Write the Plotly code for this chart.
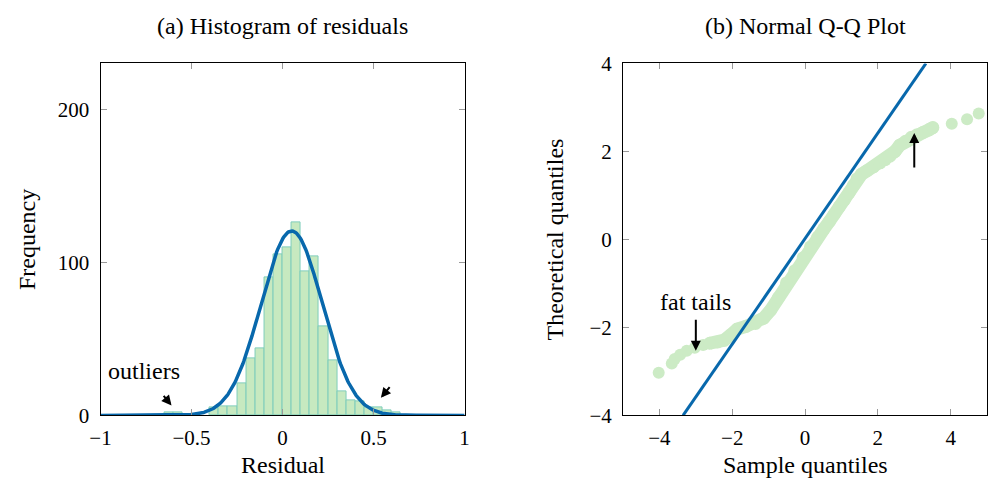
import numpy as np
import plotly.graph_objects as go

# ---------------- data ----------------
bin_left = [-0.65, -0.60, -0.40, -0.35, -0.30, -0.25, -0.20, -0.15, -0.10, -0.05,
            0.00, 0.05, 0.10, 0.15, 0.20, 0.25, 0.30, 0.35, 0.40, 0.45, 0.50, 0.55, 0.60]
bin_count = [2, 2, 5, 6, 6, 21, 37, 44, 90, 105,
             110, 126, 94, 104, 58, 36, 16, 10, 9, 5, 5, 3, 2]
bin_width = 0.05

fit_mean = 0.05
fit_sd = 0.168
fit_peak = 120.5

# Q-Q: sparse tail points (drawn as separate dots)
qq_tail_x = [-4.02, -3.66, -3.58, -3.43, -3.25, -3.03, -2.80, -2.62,
             3.51, 4.03, 4.45, 4.77]
qq_tail_y = [-3.03, -2.82, -2.72, -2.62, -2.53, -2.46, -2.40, -2.36,
             2.54, 2.63, 2.73, 2.86]
# Q-Q: dense central band
qq_band_x = [-2.62, -2.40, -2.22, -2.04, -1.86, -1.63, -1.36, -1.14, -0.95, -0.73,
             -0.51, -0.28, -0.05, 0.15, 0.35, 0.52, 0.67, 0.80, 0.94, 1.08, 1.21,
             1.33, 1.43, 1.55, 1.70, 1.88, 2.06, 2.20, 2.33, 2.47, 2.60, 2.76,
             2.92, 3.08, 3.24, 3.40, 3.51]
qq_band_y = [-2.36, -2.33, -2.29, -2.17, -2.04, -1.98, -1.91, -1.79, -1.61, -1.32,
             -0.99, -0.71, -0.42, -0.17, 0.05, 0.24, 0.41, 0.57, 0.74, 0.90, 1.06,
             1.23, 1.38, 1.48, 1.56, 1.65, 1.74, 1.81, 1.89, 2.00, 2.14, 2.23,
             2.32, 2.38, 2.43, 2.49, 2.54]
ref_x = [-3.35, 3.32]
ref_y = [-4.0, 4.0]

# ---------------- styles ----------------
FONT = "Liberation Serif"
FS_TICK = 21
FS_TXT = 24
BAR_FILL = "#c7e9c0"
BAR_EDGE = "#7fcdbb"
BLUE = "#0868ac"
PT = "#ccebc5"

W, H = 997, 494
def px(x):
    return x / W
def py(y):
    return 1 - y / H

fig = go.Figure()

centers = [b + bin_width / 2 for b in bin_left]
fig.add_trace(go.Bar(x=centers, y=bin_count, width=bin_width,
                     marker=dict(color=BAR_FILL, line=dict(color=BAR_EDGE, width=1)),
                     xaxis="x", yaxis="y", showlegend=False))

cx = np.linspace(-1, 1, 400)
cy = fit_peak * np.exp(-(cx - fit_mean) ** 2 / (2 * fit_sd ** 2))
fig.add_trace(go.Scatter(x=cx, y=cy, mode="lines", line=dict(color=BLUE, width=3.5),
                         xaxis="x", yaxis="y", showlegend=False))

fig.add_trace(go.Scatter(x=qq_band_x, y=qq_band_y, mode="lines+markers",
                         line=dict(color=PT, width=13),
                         marker=dict(color=PT, size=13),
                         xaxis="x2", yaxis="y2", showlegend=False))
fig.add_trace(go.Scatter(x=qq_tail_x, y=qq_tail_y, mode="markers",
                         marker=dict(color=PT, size=12),
                         xaxis="x2", yaxis="y2", showlegend=False))
fig.add_trace(go.Scatter(x=ref_x, y=ref_y, mode="lines",
                         line=dict(color=BLUE, width=3),
                         xaxis="x2", yaxis="y2", showlegend=False))

axcommon = dict(showline=True, linecolor="black", linewidth=1, mirror="ticks",
                ticks="inside", ticklen=6, tickcolor="#999999", showgrid=False,
                zeroline=False, tickfont=dict(family=FONT, size=FS_TICK, color="black"))
xax = dict(ticklabelstandoff=3, **axcommon)
yax = dict(ticklabelstandoff=6, **axcommon)

ydom = [py(424), py(54)]
fig.update_layout(
    width=W, height=H, margin=dict(l=0, r=0, t=0, b=0),
    plot_bgcolor="white", paper_bgcolor="white",
    bargap=0,
    xaxis=dict(domain=[px(91), px(461)], range=[-1, 1], tickvals=[-1, -0.5, 0, 0.5, 1],
               anchor="y", **xax),
    yaxis=dict(domain=ydom, range=[0, 230], tickvals=[0, 100, 200], anchor="x", **yax),
    xaxis2=dict(domain=[px(622), px(992)], range=[-5, 5], tickvals=[-4, -2, 0, 2, 4],
                anchor="y2", **xax),
    yaxis2=dict(domain=ydom, range=[-4, 4], tickvals=[-4, -2, 0, 2, 4], anchor="x2", **yax),
    font=dict(family=FONT, size=FS_TXT, color="black"),
)

ann = []
def text(x, y, s, rot=0):
    ann.append(dict(x=px(x), y=py(y), xref="paper", yref="paper", text=s, showarrow=False,
                    textangle=rot, font=dict(family=FONT, size=FS_TXT, color="black"),
                    xanchor="center", yanchor="middle"))
text(276, 15, "(a) Histogram of residuals")
text(807, 15, "(b) Normal Q-Q Plot")
text(276, 476, "Residual")
text(807, 476, "Sample quantiles")
text(17, 239, "Frequency", -90)
text(553, 239, "Theoretical quantiles", -90)

def arrow(xr, yr, x0, y0, x1, y1):
    ann.append(dict(x=x1, y=y1, ax=x0, ay=y0, xref=xr, yref=yr, axref=xr, ayref=yr,
                    showarrow=True, arrowhead=2, arrowsize=1, arrowwidth=2,
                    arrowcolor="black", text=""))
arrow("x", "y", -0.66, 13.7, -0.61, 6.5)
arrow("x", "y", 0.595, 19.5, 0.54, 11.5)
arrow("x2", "y2", 3.0, 1.6, 3.0, 2.42)
arrow("x2", "y2", -3.0, -1.79, -3.0, -2.53)
ann.append(dict(x=-0.76, y=29, xref="x", yref="y", text="outliers", showarrow=False,
                font=dict(family=FONT, size=FS_TXT, color="black")))
ann.append(dict(x=-3.0, y=-1.43, xref="x2", yref="y2", text="fat tails", showarrow=False,
                font=dict(family=FONT, size=FS_TXT, color="black")))
fig.update_layout(annotations=ann)

fig.write_html("out.html", config={"displayModeBar": False},
               post_script="document.body.style.margin='0';")
